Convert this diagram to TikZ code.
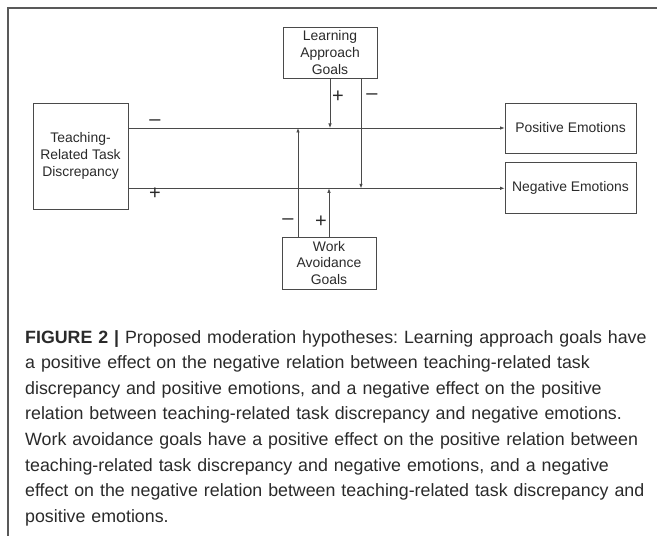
\documentclass[tikz,border=0pt]{standalone}
\usepackage{fontspec}
\setmainfont{Liberation Sans}
\usepackage{xcolor}
\usetikzlibrary{arrows.meta, positioning}

\definecolor{linegray}{HTML}{4A4A4A}
\definecolor{textgray}{HTML}{2A2A2A}
\frenchspacing

\begin{document}
\begin{tikzpicture}[
    x=1pt, y=1pt,
    box/.style={rectangle, draw=linegray, line width=0.8pt, align=center, text=textgray,
        font=\fontsize{13.9}{16.8}\selectfont, inner sep=0pt},
    arrow/.style={-{Latex[length=4.5pt,width=3.5pt]}, draw=linegray, line width=0.7pt},
    sign/.style={text=textgray, font=\fontsize{20}{20}\selectfont, inner sep=0pt}
]
\useasboundingbox (0,0) rectangle (657,536);

% frame
\draw[line width=1.5pt, gray!70!black] (8,0) -- (8,528) -- (657,528);

\node[box, minimum width=95pt, minimum height=106pt] (teaching) at (80.5,380) {Teaching-\\Related Task\\Discrepancy};
\node[box, minimum width=131pt, minimum height=50pt] (pos) at (570.5,408) {Positive Emotions};
\node[box, minimum width=131pt, minimum height=51pt, below=9pt of pos] (neg) {Negative Emotions};
\node[box, minimum width=94pt, minimum height=51pt] (learn) at (330,483.5) {Learning\\Approach\\Goals};
\node[box, minimum width=94pt, minimum height=52pt] (work) at (329,273) {Work\\Avoidance\\Goals};

\draw[arrow] (teaching.east |- pos.west) -- (pos.west);
\draw[arrow] (teaching.east |- neg.west) -- (neg.west);
\draw[arrow] (learn.south) -- (learn.south |- pos.west);
\draw[arrow] ([xshift=31pt]learn.south) -- ([xshift=31pt]learn.south |- neg.west);
\draw[arrow] ([xshift=-31pt]work.north) -- ([xshift=-31pt]work.north |- pos.west);
\draw[arrow] (work.north) -- (work.north |- neg.west);

% signs
\node[sign] (s1) at (155,413) {\textendash};
\node[sign] (s2) at (155,342) {+};
\node[sign] (s3) at (338,439) {+};
\node[sign] (s4) at (372,439) {\textendash};
\node[sign] (s5) at (288,314) {\textendash};
\node[sign] (s6) at (321,314) {+};

% caption
\node[anchor=north west, align=left, text width=632pt, inner sep=0pt, text=textgray,
    font=\fontsize{17.8}{25.6}\selectfont] (caption) at (25,206)
{\textbf{FIGURE 2 |} Proposed moderation hypotheses: Learning approach goals have\\
a positive effect on the negative relation between teaching-related task\\
discrepancy and positive emotions, and a negative effect on the positive\\
relation between teaching-related task discrepancy and negative emotions.\\
Work avoidance goals have a positive effect on the positive relation between\\
teaching-related task discrepancy and negative emotions, and a negative\\
effect on the negative relation between teaching-related task discrepancy and\\
positive emotions.};

\end{tikzpicture}
\end{document}
